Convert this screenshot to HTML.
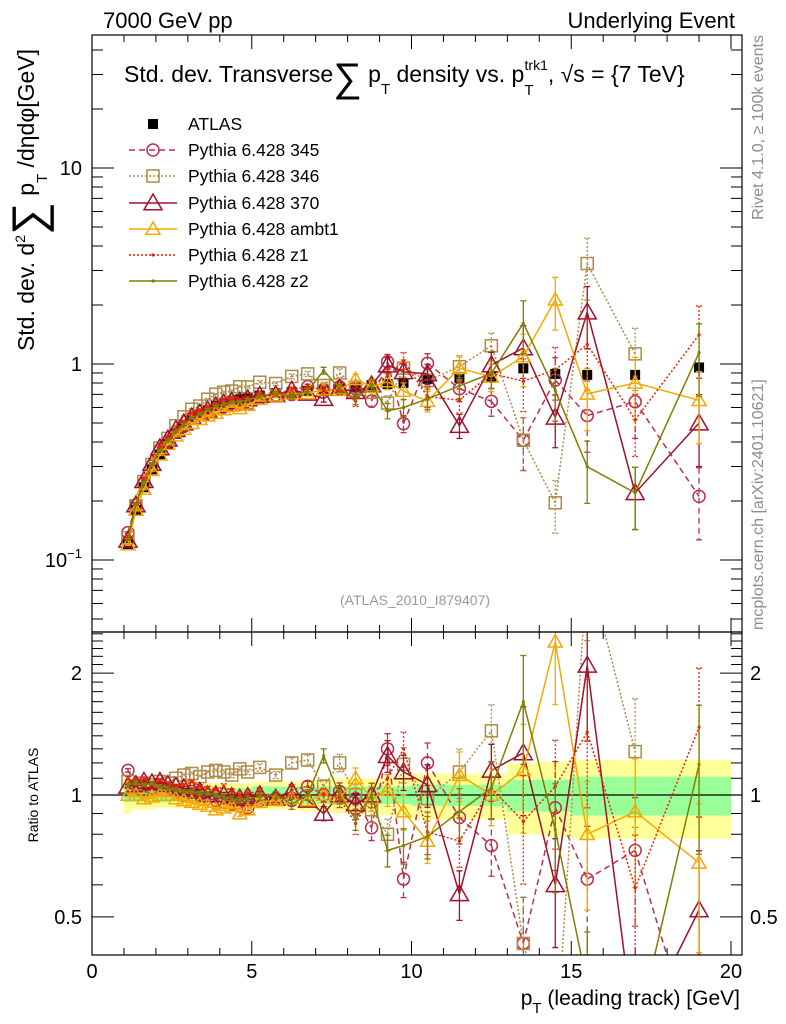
<!DOCTYPE html>
<html><head><meta charset="utf-8"><style>
html,body{margin:0;padding:0;background:#fff;width:786px;height:1024px;overflow:hidden}
svg{display:block;font-family:"Liberation Sans",sans-serif}
</style></head><body>
<svg id="chart" width="786" height="1024" viewBox="0 0 786 1024" xmlns="http://www.w3.org/2000/svg">
<defs>
<clipPath id="clipMain"><rect x="92" y="35" width="650" height="597"/></clipPath>
<clipPath id="clipRatio"><rect x="92" y="632" width="650" height="323"/></clipPath>
</defs>
<text x="103" y="28" font-size="22">7000 GeV pp</text>
<text x="735" y="28" font-size="22" text-anchor="end">Underlying Event</text>
<text x="124" y="82" font-size="23">Std. dev. Transverse<tspan font-size="40" dy="9">∑</tspan><tspan dy="-9"> p</tspan><tspan font-size="15" dy="12">T</tspan><tspan dy="-12"> density vs. p</tspan><tspan font-size="15" dy="13">T</tspan><tspan font-size="14" dy="-25" dx="-9">trk1</tspan><tspan dy="12">, √s = {7 TeV}</tspan></text>
<text transform="translate(34,200) rotate(-90)" font-size="23" text-anchor="middle">Std. dev. d<tspan font-size="14" dy="-9">2</tspan><tspan font-size="46" dy="19">∑</tspan><tspan dy="-10"> p</tspan><tspan font-size="15" dy="13">T</tspan><tspan dy="-13"> /dηdφ[GeV]</tspan></text>
<text transform="translate(38,795) rotate(-90)" font-size="14" text-anchor="middle">Ratio to ATLAS</text>
<text transform="translate(763,35) rotate(-90)" font-size="16" fill="#8c8c8c" text-anchor="end">Rivet 4.1.0, ≥ 100k events</text>
<text transform="translate(763,630) rotate(-90)" font-size="16" fill="#8c8c8c" text-anchor="start">mcplots.cern.ch [arXiv:2401.10621]</text>
<text x="415" y="605" font-size="14" fill="#999" text-anchor="middle">(ATLAS_2010_I879407)</text>
<text x="740" y="1005" font-size="21" text-anchor="end">p<tspan font-size="15" dy="8">T</tspan><tspan dy="-8"> (leading track) [GeV]</tspan></text>
<g id="bands" clip-path="url(#clipRatio)"></g>
<g id="axes"></g>
<g id="mainSeries" clip-path="url(#clipMain)"></g>
<g id="ratioSeries" clip-path="url(#clipRatio)"></g>
<g id="legend"></g>
<rect x="92" y="35" width="650" height="597" fill="none" stroke="#000" stroke-width="1.2"/>
<rect x="92" y="632" width="650" height="323" fill="none" stroke="#000" stroke-width="1.2"/>
</svg>
<script>
const xCenters=[1.125,1.375,1.625,1.875,2.125,2.375,2.625,2.875,3.125,3.375,3.625,3.875,4.125,4.375,4.625,4.875,5.25,5.75,6.25,6.75,7.25,7.75,8.25,8.75,9.25,9.75,10.5,11.5,12.5,13.5,14.5,15.5,17,19];
const binEdges=[1,1.25,1.5,1.75,2,2.25,2.5,2.75,3,3.25,3.5,3.75,4,4.25,4.5,4.75,5,5.5,6,6.5,7,7.5,8,8.5,9,9.5,10,11,12,13,14,15,16,18,20];
const atlasValues=[0.12,0.18,0.235,0.29,0.345,0.39,0.44,0.48,0.52,0.55,0.58,0.61,0.63,0.65,0.66,0.67,0.69,0.71,0.72,0.73,0.74,0.75,0.76,0.78,0.79,0.80,0.84,0.85,0.86,0.95,0.89,0.88,0.88,0.96];
const statRel=[0.04,0.04,0.04,0.04,0.04,0.04,0.04,0.04,0.04,0.04,0.04,0.04,0.04,0.04,0.04,0.04,0.05,0.05,0.05,0.05,0.05,0.05,0.05,0.05,0.05,0.05,0.06,0.06,0.06,0.09,0.09,0.11,0.11,0.11];
const totRel=[0.1,0.08,0.08,0.08,0.07,0.07,0.07,0.07,0.07,0.07,0.07,0.07,0.07,0.07,0.07,0.07,0.08,0.08,0.08,0.09,0.09,0.1,0.1,0.1,0.11,0.12,0.13,0.13,0.13,0.2,0.21,0.22,0.22,0.22];
const ratio345=[1.15,1.06,1.05,1.04,1.06,1.03,1.02,1.0,1.02,1.0,0.98,0.97,0.96,0.95,0.94,0.93,0.97,0.98,0.97,1.05,1.0,1.02,0.98,0.83,1.3,0.62,1.2,0.88,0.75,0.43,0.93,0.62,0.73,0.22];
const ratio346=[1.08,1.05,1.07,1.06,1.08,1.07,1.1,1.12,1.13,1.11,1.14,1.15,1.14,1.12,1.16,1.14,1.17,1.12,1.2,1.22,1.05,1.2,1.0,0.92,0.8,1.19,0.98,1.14,1.44,0.43,0.22,3.7,1.28,null];
const ratio370=[1.05,1.06,1.08,1.07,1.08,1.06,1.05,1.04,1.03,1.02,1.0,1.0,1.0,0.99,0.98,0.99,1.0,0.98,1.02,0.97,0.9,1.0,0.95,1.0,1.25,1.14,1.06,0.57,1.15,1.27,0.6,2.09,0.25,0.52];
const ratioAmbt1=[1.0,1.0,0.98,0.99,1.0,1.0,0.98,0.97,0.96,0.95,0.94,0.92,0.93,0.94,0.9,0.92,0.96,0.97,0.98,0.97,1.0,0.98,1.1,0.98,1.03,0.91,0.77,1.12,1.0,1.15,2.39,0.80,0.91,0.68];
const ratioZ1=[1.1,1.08,1.1,1.06,1.09,1.07,1.05,1.06,1.08,1.05,1.04,1.03,1.05,1.02,1.0,1.01,1.02,0.98,1.03,1.05,1.0,0.98,0.85,1.0,1.1,1.3,0.81,0.77,1.04,0.86,1.05,1.43,0.59,1.47];
const ratioZ2=[1.06,1.07,1.06,1.07,1.05,1.04,1.03,1.02,1.02,1.01,1.01,1.0,0.99,0.98,0.97,0.98,0.99,1.0,0.95,1.0,1.25,1.0,0.87,1.0,0.73,0.75,0.79,0.91,1.04,1.70,0.82,0.34,0.25,1.19];
const mcErrRel=[0.01,0.01,0.01,0.01,0.01,0.01,0.01,0.01,0.01,0.01,0.01,0.01,0.015,0.015,0.015,0.015,0.02,0.02,0.03,0.03,0.04,0.05,0.06,0.07,0.09,0.1,0.12,0.14,0.16,0.3,0.3,0.35,0.35,0.4];
const atlasErrRel=[0.01,0.01,0.01,0.01,0.01,0.01,0.01,0.01,0.01,0.01,0.01,0.01,0.01,0.01,0.01,0.01,0.015,0.015,0.015,0.02,0.02,0.02,0.02,0.02,0.03,0.03,0.03,0.04,0.04,0.05,0.05,0.06,0.06,0.07];
const yTickLabels=["10","1"];
const ratioTickLabels=["2","1","0.5"];
const xTickLabels=["0","5","10","15","20"];

const NS="http://www.w3.org/2000/svg";
const X=v=>92+v*31.95;
const Y=v=>364-196*Math.log10(v);
const R=v=>795-405*Math.log10(v);
const YMIN=20,YMAX=1000;
const cl=y=>Math.min(YMAX,Math.max(YMIN,y));
function mk(tag,attrs,parent){const e=document.createElementNS(NS,tag);for(const k in attrs)e.setAttribute(k,attrs[k]);parent.appendChild(e);return e;}

const bands=document.getElementById('bands');
for(let i=0;i<xCenters.length;i++){
  const x0=X(binEdges[i]),x1=X(binEdges[i+1]);
  const y=mk('rect',{x:x0,y:R(1+totRel[i]),width:x1-x0,height:R(1-totRel[i])-R(1+totRel[i]),fill:'#ffff99'},bands);
  
  
  const g=mk('rect',{x:x0,y:R(1+statRel[i]),width:x1-x0,height:R(1-statRel[i])-R(1+statRel[i]),fill:'#99ff99'},bands);
  
  
}

const ax=document.getElementById('axes');
function tick(x1,y1,x2,y2){const t=mk('line',{x1,y1,x2,y2,stroke:'#000','stroke-width':1},ax);}
for(let d=-2;d<=1;d++){for(let m=1;m<=9;m++){const v=m*Math.pow(10,d);const y=Y(v);if(y<35||y>632)continue;const L=m===1?22:11;tick(92,y,92+L,y);tick(742,y,742-L,y);}}
[10,1].forEach((v,i)=>{const t=mk('text',{x:82,y:Y(v)+7,'font-size':20,'text-anchor':'end'},ax);t.textContent=yTickLabels[i];});
{const t=mk('text',{x:82,y:Y(0.1)+7,'font-size':20,'text-anchor':'end'},ax);t.textContent='10';const s=mk('tspan',{dy:-9,'font-size':13},t);s.textContent='−1';}
for(let k=4;k<=25;k++){const v=k/10;const y=R(v);if(y<632||y>955)continue;const L=(k===5||k===10||k===20)?22:11;tick(92,y,92+L,y);tick(742,y,742-L,y);}
[2,1,0.5].forEach((v,i)=>{const t=mk('text',{x:82,y:R(v)+7,'font-size':20,'text-anchor':'end'},ax);t.textContent=ratioTickLabels[i];
 const t2=mk('text',{x:750,y:R(v)+7,'font-size':20},ax);t2.textContent=ratioTickLabels[i];});
for(let v=0;v<=20;v++){const x=X(v);const L=v%5===0?14:7;tick(x,35,x,35+L);tick(x,632,x,632-L);tick(x,632,x,632+L);tick(x,955,x,955-L);}
[0,5,10,15,20].forEach((v,i)=>{const t=mk('text',{x:X(v),y:978,'font-size':20,'text-anchor':'middle'},ax);t.textContent=xTickLabels[i];});
{const l=mk('line',{x1:92,y1:R(1),x2:742,y2:R(1),stroke:'#000','stroke-width':1.2},ax);}

const series=[
 {name:'345',ratio:ratio345,color:'#b8304f',dash:'6,4',marker:'circle',size:6},
 {name:'346',ratio:ratio346,color:'#b08a40',dash:'2,2',marker:'square',size:6},
 {name:'370',ratio:ratio370,color:'#a0102c',dash:'',marker:'tri',size:9},
 {name:'ambt1',ratio:ratioAmbt1,color:'#f5a800',dash:'',marker:'tri',size:7},
 {name:'z1',ratio:ratioZ1,color:'#ee2200',dash:'2,2',marker:'dot',size:1.6},
 {name:'z2',ratio:ratioZ2,color:'#7f7f00',dash:'',marker:'dot',size:1.6}
];
function marker(kind,x,y,s,color,parent){
  let e;
  if(kind==='circle')e=mk('circle',{cx:x,cy:y,r:s,fill:'none',stroke:color,'stroke-width':1.5},parent);
  else if(kind==='square')e=mk('rect',{x:x-s,y:y-s,width:2*s,height:2*s,fill:'none',stroke:color,'stroke-width':1.5},parent);
  else if(kind==='tri')e=mk('polygon',{points:`${x},${y-s} ${x-s},${y+s*0.75} ${x+s},${y+s*0.75}`,fill:'none',stroke:color,'stroke-width':1.5},parent);
  else if(kind==='fsq')e=mk('rect',{x:x-s,y:y-s,width:2*s,height:2*s,fill:color},parent);
  else e=mk('circle',{cx:x,cy:y,r:s,fill:color},parent);
  return e;
}
// clip a segment to horizontal band [YMIN,YMAX]; returns null if fully outside
function clipSeg(x1,y1,x2,y2){
  const f=(ya,yb,b)=> (b-ya)/(yb-ya);
  if((y1>YMAX&&y2>YMAX)||(y1<YMIN&&y2<YMIN))return null;
  let a=[x1,y1],b=[x2,y2];
  for(const lim of [YMAX,YMIN]){
    const out=y=>lim===YMAX?y>YMAX:y<YMIN;
    if(out(a[1])){const t=f(a[1],b[1],lim);a=[a[0]+(b[0]-a[0])*t,lim];}
    if(out(b[1])){const t=f(b[1],a[1],lim);b=[b[0]+(a[0]-b[0])*t,lim];}
  }
  return [a,b];
}
function drawSeries(s,parent,ys,panel){
  const g=mk('g',{},parent);
  
  
  const pts=[];
  for(let i=0;i<xCenters.length;i++){
    if(s.ratio[i]==null)continue;
    const vv=panel==='main'?atlasValues[i]*s.ratio[i]:s.ratio[i];
    pts.push([X(xCenters[i]),ys(vv)]);
  }
  let d='';
  for(let k=0;k+1<pts.length;k++){
    const c=clipSeg(pts[k][0],pts[k][1],pts[k+1][0],pts[k+1][1]);
    if(!c)continue;
    d+=`M${c[0][0]},${c[0][1]}L${c[1][0]},${c[1][1]}`;
  }
  const p=mk('path',{d,fill:'none',stroke:s.color,'stroke-width':1.5,'stroke-dasharray':s.dash},g);
  
  
  for(let i=0;i<xCenters.length;i++){
    if(s.ratio[i]==null)continue;
    const vv=panel==='main'?atlasValues[i]*s.ratio[i]:s.ratio[i];
    const x=X(xCenters[i]);const e=mcErrRel[i]*vv;
    const yc=ys(vv);
    if(yc>YMAX||yc<YMIN)continue;
    const hi=cl(ys(vv+e)),lo=cl(ys(Math.max(vv-e,1e-3)));
    const eb=mk('path',{d:`M${x},${hi}L${x},${lo}M${x-3},${hi}L${x+3},${hi}M${x-3},${lo}L${x+3},${lo}`,stroke:s.color,'stroke-width':1.3,'stroke-dasharray':s.dash,fill:'none'},g);
    
    
    const m=marker(s.marker,x,yc,s.size,s.color,g);
    
    
  }
}
const mainG=document.getElementById('mainSeries'),ratioG=document.getElementById('ratioSeries');
{const g=mk('g',{},mainG);


for(let i=0;i<xCenters.length;i++){const x=X(xCenters[i]),v=atlasValues[i],e=v*atlasErrRel[i];
 const eb=mk('line',{x1:x,y1:Y(v+e),x2:x,y2:Y(v-e),stroke:'#000','stroke-width':1.3},g);
 
 
 const m=marker('fsq',x,Y(v),5,'#000',g);
 
 }}
series.forEach(s=>{drawSeries(s,mainG,Y,'main');drawSeries(s,ratioG,R,'ratio');});

const lg=document.getElementById('legend');
const legY=[124,150,176,203,229,255,281];
{const m=marker('fsq',153,legY[0],5,'#000',lg);
 const t=mk('text',{x:188,y:legY[0]+6,'font-size':17.5},lg);t.textContent='ATLAS';}
series.forEach((s,i)=>{const y=legY[i+1];
 const l=mk('line',{x1:129,y1:y,x2:177,y2:y,stroke:s.color,'stroke-width':1.5,'stroke-dasharray':s.dash},lg);
 
 
 const m=marker(s.marker,153,y,s.size,s.color,lg);
 
 
 const t=mk('text',{x:188,y:y+6,'font-size':17.5},lg);t.textContent='Pythia 6.428 '+s.name;
 
 });
</script>
</body></html>
